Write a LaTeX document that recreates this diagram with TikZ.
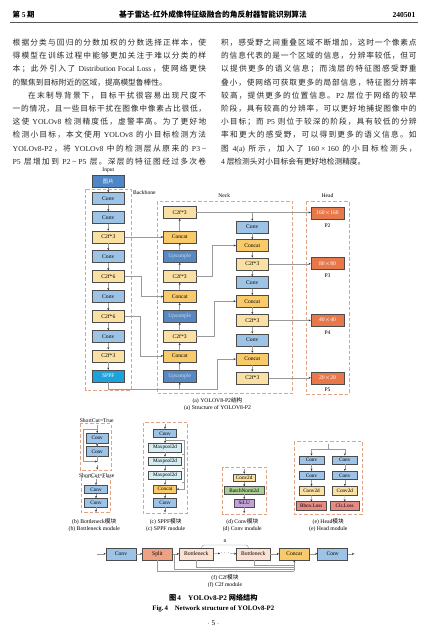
\documentclass[tikz,border=0pt]{standalone}
\usepackage{fontspec}
\setmainfont{Liberation Serif}
\newfontfamily\cjk{Noto Sans CJK SC}
\usetikzlibrary{arrows.meta}
\definecolor{convc}{HTML}{9DC3E6}
\definecolor{imgc}{HTML}{4F86C6}
\definecolor{c2fc}{HTML}{FBE0A3}
\definecolor{catc}{HTML}{F8CA69}
\definecolor{upc}{HTML}{5689C4}
\definecolor{sppfc}{HTML}{1DA3DB}
\definecolor{headc}{HTML}{E8784A}
\definecolor{dashc}{HTML}{E2A384}
\definecolor{mpc}{HTML}{D6EDF2}
\definecolor{bnc}{HTML}{A9D08E}
\definecolor{siluc}{HTML}{C3A2D8}
\definecolor{lossc}{HTML}{E88A84}
\definecolor{splitc}{HTML}{EFA283}
\definecolor{btlc}{HTML}{FBE1D3}
\definecolor{linec}{HTML}{9A9A9A}
\newcommand\en[1]{{\rmfamily #1}}
\def\SPstop{\SPstop}
\def\SPend{\SPstop}
\def\SPread#1{\def\SPtmp{#1}\ifx\SPtmp\SPend\unskip\else#1\hskip0pt plus 1fil\relax\expandafter\SPread\fi}
\newcommand\fline[2]{\hbox to #1{\SPread#2\SPstop}}
\tikzset{
  bx/.style={draw=black!70, line width=0.5pt, minimum height=12pt, minimum width=32.5pt, inner sep=0pt, font=\fontsize{5.6}{6}\selectfont},
  sbx/.style={draw=black!70, line width=0.45pt, minimum height=8.5pt, inner sep=0pt, font=\fontsize{5.2}{6}\selectfont},
  dbox/.style={draw=dashc, line width=0.9pt, dash pattern=on 3.5pt off 2pt},
  arr/.style={draw=linec, line width=0.45pt, -{Stealth[length=2.2pt,width=2pt,color=black!80]}},
  ln/.style={draw=linec, line width=0.45pt},
  lab/.style={inner sep=0pt, font=\fontsize{5.6}{6}\selectfont},
  capt/.style={inner sep=0pt, font=\fontsize{5.7}{6}\selectfont},
  bodyline/.style={anchor=base west, inner sep=0pt, text=black!85, font=\fontsize{7.7}{10}\cjk},
}
\begin{document}
\begin{tikzpicture}[x=1pt,y=-1pt]
\useasboundingbox (0,0) rectangle (427,636);
\fill[white] (0,0) rectangle (427,636);
% header
\node[anchor=base west, inner sep=0pt, font=\fontsize{7.4}{9}\cjk\bfseries] (hd1) at (12.5,18) {第 \en{5} 期};
\node[anchor=base, inner sep=0pt, font=\fontsize{7.7}{9}\cjk\bfseries] (hd2) at (213,18) {基于雷达-红外成像特征级融合的角反射器智能识别算法};
\node[anchor=base east, inner sep=0pt, font=\fontsize{7.6}{9}\rmfamily\bfseries] (hd3) at (415.5,18) {240501};
\draw[black!65, line width=0.7pt] (10,22.7) coordinate (r1) -- (418,22.7) coordinate (r2);
% left column
\node[bodyline] (l1) at (12.5,45.6) {\fline{193.5pt}{根据分类与回归的分数加权的分数选择正样本，使}};
\node[bodyline] (l2) at (12.5,58.8) {\fline{193.5pt}{得模型在训练过程中能够更加关注于难以分类的样}};
\node[bodyline] (l3) at (12.5,72) {\fline{193.5pt}{本；此外引入了{{\rmfamily\ Distribution Focal Loss}}，使网络更快}};
\node[bodyline] (l4) at (12.5,85.2) {的聚焦到目标附近的区域，提高模型鲁棒性。};
\node[bodyline] (l5) at (28,98.4) {\fline{178pt}{在末制导背景下，目标干扰很容易出现尺度不}};
\node[bodyline] (l6) at (12.5,111.6) {\fline{193.5pt}{一的情况，且一些目标干扰在图像中像素占比很低，}};
\node[bodyline] (l7) at (12.5,124.8) {\fline{193.5pt}{这使{{\rmfamily\ YOLOv8\ }}检测精度低，虚警率高。为了更好地}};
\node[bodyline] (l8) at (12.5,138) {\fline{193.5pt}{检测小目标，本文使用{{\rmfamily\ YOLOv8\ }}的小目标检测方法}};
\node[bodyline] (l9) at (12.5,151.2) {\fline{193.5pt}{{{\rmfamily YOLOv8-P2}}，将{{\rmfamily\ YOLOv8\ }}中的检测层从原来的{{\rmfamily\ P3 \textasciitilde}}}};
\node[bodyline] (l10) at (12.5,164.4) {\fline{193.5pt}{{{\rmfamily P5\ }}层增加到{{\rmfamily\ P2 \textasciitilde\ P5\ }}层。深层的特征图经过多次卷}};
% right column
\node[bodyline] (r1t) at (221,45.6) {\fline{195.5pt}{积，感受野之间重叠区域不断增加，这时一个像素点}};
\node[bodyline] (r2t) at (221,58.8) {\fline{195.5pt}{的信息代表的是一个区域的信息，分辨率较低，但可}};
\node[bodyline] (r3t) at (221,72) {\fline{195.5pt}{以提供更多的语义信息；而浅层的特征图感受野重}};
\node[bodyline] (r4t) at (221,85.2) {\fline{195.5pt}{叠小，使网络可获取更多的局部信息，特征图分辨率}};
\node[bodyline] (r5t) at (221,98.4) {\fline{195.5pt}{较高，提供更多的位置信息。{{\rmfamily P2\ }}层位于网络的较早}};
\node[bodyline] (r6t) at (221,111.6) {\fline{195.5pt}{阶段，具有较高的分辨率，可以更好地捕捉图像中的}};
\node[bodyline] (r7t) at (221,124.8) {\fline{195.5pt}{小目标；而{{\rmfamily\ P5\ }}则位于较深的阶段，具有较低的分辨}};
\node[bodyline] (r8t) at (221,138) {\fline{195.5pt}{率和更大的感受野，可以得到更多的语义信息。如}};
\node[bodyline] (r9t) at (221,151.2) {\fline{195.5pt}{图{{\rmfamily\ 4(a)\ }}所示，加入了{{\rmfamily\ 160 × 160\ }}的小目标检测头，}};
\node[bodyline] (r10t) at (221,164.4) {\en{4} 层检测头对小目标会有更好地检测精度。};
% ===== (a) =====
\draw[dbox] (85.7,189.3) rectangle (131,390.7);
\draw[dbox] (157.3,201.3) rectangle (292.7,393.3);
\draw[dbox] (306,201.7) rectangle (349,394);
\node[lab] (tin) at (108.3,170.5) {Input};
\node[lab, anchor=west] (tbb) at (133,192.5) {Backbone};
\node[lab] (tnk) at (224.3,196) {Neck};
\node[lab] (thd) at (327.5,196) {Head};
\node[bx, fill=imgc, text=white, font=\fontsize{5.4}{6}\cjk] (img) at (108.3,181.5) {图片};
\node[bx, fill=convc] (b1) at (108.3,198.5) {Conv};
\node[bx, fill=convc] (b2) at (108.3,217.5) {Conv};
\node[bx, fill=c2fc] (b3) at (108.3,237) {C2f*3};
\node[bx, fill=convc] (b4) at (108.3,256.5) {Conv};
\node[bx, fill=c2fc] (b5) at (108.3,276.5) {C2f*6};
\node[bx, fill=convc] (b6) at (108.3,296.5) {Conv};
\node[bx, fill=c2fc] (b7) at (108.3,316.5) {C2f*6};
\node[bx, fill=convc] (b8) at (108.3,336.5) {Conv};
\node[bx, fill=c2fc] (b9) at (108.3,355.8) {C2f*3};
\node[bx, fill=sppfc, text=white] (b10) at (108.3,376) {SPPF};
% neck left
\node[bx, fill=c2fc] (nl1) at (179.7,212.5) {C2f*3};
\node[bx, fill=catc] (nl2) at (179.7,236.8) {Concat};
\node[bx, fill=upc, text=white!85!black] (nl3) at (179.7,256.4) {Upsample};
\node[bx, fill=c2fc] (nl4) at (179.7,276.2) {C2f*3};
\node[bx, fill=catc] (nl5) at (179.7,296.6) {Concat};
\node[bx, fill=upc, text=white!85!black] (nl6) at (179.7,316.4) {Upsample};
\node[bx, fill=c2fc] (nl7) at (179.7,336.6) {C2f*3};
\node[bx, fill=catc] (nl8) at (179.7,355.8) {Concat};
\node[bx, fill=upc, text=white!85!black] (nl9) at (179.7,376.2) {Upsample};
% neck right
\node[bx, fill=convc] (nr1) at (252.3,227) {Conv};
\node[bx, fill=catc] (nr2) at (252.3,245.5) {Concat};
\node[bx, fill=c2fc] (nr3) at (252.3,263.8) {C2f*3};
\node[bx, fill=convc] (nr4) at (252.3,282.7) {Conv};
\node[bx, fill=catc] (nr5) at (252.3,301.2) {Concat};
\node[bx, fill=c2fc] (nr6) at (252.3,320.4) {C2f*3};
\node[bx, fill=convc] (nr7) at (252.3,339.8) {Conv};
\node[bx, fill=catc] (nr8) at (252.3,359.1) {Concat};
\node[bx, fill=c2fc] (nr9) at (252.3,377.8) {C2f*3};
% head
\node[bx, fill=headc, text=white, minimum width=33pt] (h1) at (327.5,212.8) {160$\times$160};
\node[bx, fill=headc, text=white, minimum width=33pt] (h2) at (327.5,263.7) {80$\times$80};
\node[bx, fill=headc, text=white, minimum width=33pt] (h3) at (327.5,320.2) {40$\times$40};
\node[bx, fill=headc, text=white, minimum width=33pt] (h4) at (327.5,377.8) {20$\times$20};
\node[lab] (p2) at (327.5,225.3) {P2};
\node[lab] (p3) at (327.5,276) {P3};
\node[lab] (p4) at (327.5,332.5) {P4};
\node[lab] (p5) at (327.5,389.8) {P5};
% arrows
\foreach \a/\b in {img/b1,b1/b2,b2/b3,b3/b4,b4/b5,b5/b6,b6/b7,b7/b8,b8/b9,b9/b10}
  \draw[arr] (\a) -- (\b);
\foreach \a/\b in {nl9/nl8,nl8/nl7,nl7/nl6,nl6/nl5,nl5/nl4,nl4/nl3,nl3/nl2,nl2/nl1}
  \draw[arr] (\a) -- (\b);
\foreach \a/\b in {nr1/nr2,nr2/nr3,nr3/nr4,nr4/nr5,nr5/nr6,nr6/nr7,nr7/nr8,nr8/nr9}
  \draw[arr] (\a) -- (\b);
\draw[arr] (b3.east) -- (b3.east -| nl2.west);
\coordinate (k1) at (141,276.5);
\coordinate (k2) at (140,316.5);
\draw[arr] (b5.east) -- (k1) |- (nl5.west);
\draw[arr] (b7.east) -- (k2) |- (nl8.west);
\coordinate (sp1) at (108.3,389.5);
\coordinate (sp2) at (217.3,389.5);
\draw[ln] (b10.south) -- (sp1) -- (sp2);
\draw[arr] (sp2) |- (nr8.west);
\draw[arr] (nl9.south |- sp1) -- (nl9.south);
\draw[arr] (nl1.east) -- (nl1.east -| h1.west);
\draw[arr] (nl1.east -| nr1.north) -- (nr1.north);
\coordinate (k3) at (212,276.2);
\coordinate (k4) at (214,336.6);
\draw[arr] (nl4.east) -- (k3) |- (nr2.west);
\draw[arr] (nl7.east) -- (k4) |- (nr5.west);
\draw[arr] (nr3.east) -- (nr3.east -| h2.west);
\draw[arr] (nr6.east) -- (nr6.east -| h3.west);
\draw[arr] (nr9.east) -- (nr9.east -| h4.west);
\node[capt] (capa1) at (217.5,400.3) {(a) YOLOV8-P2{\cjk 结构}};
\node[capt] (capa2) at (217.5,407.9) {(a) Structure of YOLOV8-P2};
% ===== (b) =====
\node[lab] (sct) at (96.7,420.8) {ShortCut=True};
\draw[dbox] (80,423.3) rectangle (111,470.7);
\node[sbx, fill=convc, minimum width=22pt, minimum height=9.5pt] (bc1) at (97.2,438) {Conv};
\node[sbx, fill=convc, minimum width=22pt, minimum height=9.5pt] (bc2) at (97.2,451.3) {Conv};
\coordinate (bi) at (97.2,425);
\coordinate (bl1) at (83,429);
\coordinate (bl2) at (83,461.5);
\coordinate (bo1) at (97.2,461.5);
\coordinate (bo2) at (97.2,464.5);
\coordinate (bo3) at (97.2,469.5);
\draw[arr] (bi) -- (bc1.north);
\draw[arr] (bc1) -- (bc2);
\draw[ln] (bc2.south) -- (bo1);
\draw[arr] (bi |- bl1) -- (bl1) -- (bl2) -- (bo1);
\draw[arr] (bo2) -- (bo3);
\node[lab] (scf) at (96.7,475.3) {ShortCut=Flase};
\draw[dbox] (81,477.3) rectangle (110,512.7);
\node[sbx, fill=convc, minimum width=23pt] (bf1) at (96,489.3) {Conv};
\node[sbx, fill=convc, minimum width=23pt] (bf2) at (96,502.7) {Conv};
\coordinate (bfi) at (96,478.8);
\coordinate (bfo) at (96,512);
\draw[arr] (bfi) -- (bf1.north);
\draw[arr] (bf1) -- (bf2);
\draw[arr] (bf2.south) -- (bfo);
\node[capt] (capb1) at (94.3,522) {(b) Bottleneck{\cjk 模块}};
\node[capt] (capb2) at (94.3,529.3) {(b) Bottleneck module};
% ===== (c) =====
\draw[dbox] (143.3,422.7) rectangle (187.3,513.3);
\node[sbx, fill=convc, minimum width=23pt] (sc1) at (165,433.3) {Conv};
\node[sbx, fill=mpc, minimum width=33pt] (mp1) at (165,447.5) {Maxpool2d};
\node[sbx, fill=mpc, minimum width=33pt] (mp2) at (165,461.2) {Maxpool2d};
\node[sbx, fill=mpc, minimum width=33pt] (mp3) at (165,475.2) {Maxpool2d};
\node[sbx, fill=catc, minimum width=23pt] (scat) at (165,489.2) {Concat};
\node[sbx, fill=convc, minimum width=23pt] (sc2) at (165,502.7) {Conv};
\coordinate (si) at (165,424.3);
\coordinate (so) at (165,512.3);
\draw[arr] (si) -- (sc1.north);
\foreach \a/\b in {sc1/mp1,mp1/mp2,mp2/mp3,mp3/scat,scat/sc2} \draw[arr] (\a) -- (\b);
\draw[arr] (sc2.south) -- (so);
\coordinate (sr1) at (184,440.4);
\coordinate (sr2) at (184,454.4);
\coordinate (sr3) at (184,468.2);
\coordinate (sr4) at (184,482.2);
\draw[ln] (sc1.south |- sr1) -- (sr1);
\draw[ln] (mp1.east |- sr2) -- (sr2);
\draw[ln] (mp2.east |- sr3) -- (sr3);
\draw[ln] (mp3.east |- sr4) -- (sr4);
\draw[arr] (sr1) |- (scat.east);
\node[capt] (capc1) at (165.7,522) {(c) SPPF{\cjk 模块}};
\node[capt] (capc2) at (165.7,529.3) {(c) SPPF module};
% ===== (d) =====
\draw[dbox] (222.7,467.3) rectangle (266.7,514.3);
\node[sbx, fill=c2fc, minimum width=22pt, minimum height=7.5pt] (dc1) at (244.2,477.7) {Conv2d};
\node[sbx, fill=bnc, minimum width=40pt, minimum height=7.5pt] (dbn) at (244.2,490.3) {BatchNorm2d};
\node[sbx, fill=siluc, minimum width=20pt, minimum height=7.5pt] (dsi) at (244.2,503) {SiLU};
\coordinate (di) at (244.2,468.8);
\coordinate (dout) at (244.2,513);
\draw[arr] (di) -- (dc1.north);
\draw[arr] (dc1) -- (dbn);
\draw[arr] (dbn) -- (dsi);
\draw[arr] (dsi.south) -- (dout);
\node[capt] (capd1) at (242.3,522) {(d) Conv{\cjk 模块}};
\node[capt] (capd2) at (242.3,529.3) {(d) Conv module};
% ===== (e) =====
\draw[dbox] (294.3,441.7) rectangle (362.3,514.3);
\node[sbx, fill=convc, minimum width=25pt] (e1) at (311.5,460) {Conv};
\node[sbx, fill=convc, minimum width=25pt] (e2) at (311.5,475.3) {Conv};
\node[sbx, fill=c2fc, minimum width=25pt] (e3) at (311.5,490.5) {Conv2d};
\node[sbx, fill=lossc, minimum width=30.7pt, minimum height=9pt] (e4) at (311.3,506.2) {Bbox.Loss};
\node[sbx, fill=convc, minimum width=25pt] (f1) at (344.8,460) {Conv};
\node[sbx, fill=convc, minimum width=25pt] (f2) at (344.8,475.3) {Conv};
\node[sbx, fill=c2fc, minimum width=25pt] (f3) at (344.8,490.5) {Conv2d};
\node[sbx, fill=lossc, minimum width=29.3pt, minimum height=9pt] (f4) at (344.7,506.2) {Cls.Loss};
\coordinate (ei) at (328,443.5);
\coordinate (ej) at (328,449);
\draw[ln] (ei) -- (ej);
\draw[ln] (e1.north |- ej) -- (f1.north |- ej);
\draw[arr] (e1.north |- ej) -- (e1.north);
\draw[arr] (f1.north |- ej) -- (f1.north);
\foreach \a/\b in {e1/e2,e2/e3,e3/e4,f1/f2,f2/f3,f3/f4} \draw[arr] (\a) -- (\b);
\node[capt] (cape1) at (328.3,522) {(e) Head{\cjk 模块}};
\node[capt] (cape2) at (328.3,529.3) {(e) Head module};
% ===== (f) =====
\tikzset{fbx/.style={draw=black!70, line width=0.5pt, minimum height=12pt, inner sep=0pt, font=\fontsize{5.6}{6}\selectfont}}
\node[fbx, fill=convc, minimum width=30pt] (g1) at (121,553.8) {Conv};
\node[fbx, fill=splitc, minimum width=29.7pt] (g2) at (157.5,553.8) {Split};
\node[fbx, fill=btlc, minimum width=34pt] (g3) at (196.3,553.8) {Bottleneck};
\node[inner sep=0pt, font=\fontsize{5.6}{6}\selectfont] (gd) at (225,553.3) {$\cdots$};
\node[fbx, fill=btlc, minimum width=33.3pt] (g4) at (253.3,553.8) {Bottleneck};
\node[fbx, fill=catc, minimum width=30pt] (g5) at (294.3,553.8) {Concat};
\node[fbx, fill=convc, minimum width=30pt] (g6) at (332.7,553.8) {Conv};
\coordinate (gi) at (97.3,553.8);
\coordinate (go) at (354.3,553.8);
\draw[arr] (gi) -- (g1.west);
\draw[arr] (g1) -- (g2);
\draw[arr] (g2) -- (g3);
\draw[arr] (g3.east) -- (gd.west);
\draw[arr] (gd.east) -- (g4.west);
\draw[arr] (g4) -- (g5);
\draw[arr] (g5) -- (g6);
\draw[arr] (g6.east) -- (go);
\draw[ln, rounded corners=2.5pt] (201.7,547.8) coordinate (n1) -- (201.7,545) -- (248.3,545) -- (248.3,547.8) coordinate (n2);
\node[lab] (gn) at (225,541.3) {n};
\coordinate (m1) at (157.3,571);
\coordinate (m2) at (174,569);
\coordinate (m3) at (196.3,567);
\coordinate (m4) at (254,565);
\draw[ln] (g2.south -| m1) -- (m1) -- (m1 -| g5.south);
\draw[ln] (m2 |- g2.east) -- (m2) -- (m2 -| g5.south);
\draw[ln] (g3.south -| m3) -- (m3) -- (m3 -| g5.south);
\draw[ln] (g4.south -| m4) -- (m4) -- (m4 -| g5.south);
\draw[arr] (m1 -| g5.south) -- (g5.south);
\node[capt] (capf1) at (225,577.7) {(f) C2f{\cjk 模块}};
\node[capt] (capf2) at (225,585) {(f) C2f module};
% figure caption
\node[inner sep=0pt, font=\fontsize{7.2}{8}\selectfont] (fc1) at (213.3,597.7) {{\cjk\bfseries 图}\,\textbf{4}\quad\textbf{YOLOv8-P2} {\cjk\bfseries 网络结构}};
\node[inner sep=0pt, font=\fontsize{6.8}{8}\selectfont\bfseries] (fc2) at (213.3,609.3) {Fig.\,4\quad Network structure of YOLOv8-P2};
\node[inner sep=0pt, font=\fontsize{7.2}{8}\selectfont] (pg) at (213.3,623.3) {$\cdot$\ 5\ $\cdot$};
\end{tikzpicture}
\end{document}
